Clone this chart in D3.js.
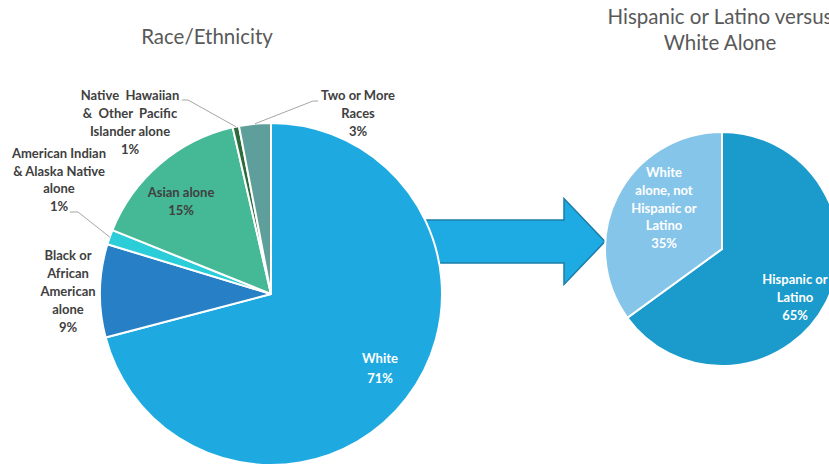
<!DOCTYPE html>
<html>
<head>
<meta charset="utf-8">
<script src="https://cdn.jsdelivr.net/npm/d3@7"></script>
<style>
html,body{margin:0;padding:0;background:#fff;overflow:hidden;}
svg{display:block;font-family:Lato,"Open Sans",sans-serif;}
svg text{white-space:pre;}
</style>
</head>
<body>
<div id="chart"></div>
<script>
// left pie: race/ethnicity share (%)
const raceNames=["White","Black or African American alone","American Indian & Alaska Native alone","Asian alone","Native Hawaiian & Other Pacific Islander alone","Two or More Races"];
const raceValues=[70.9,8.8,1.4,15.3,0.6,3.0];
const raceLines=[["White"],["Black or","African","American","alone"],["American Indian","& Alaska Native","alone"],["Asian alone"],["Native  Hawaiian","&  Other  Pacific","Islander alone"],["Two or More","Races"]];
const raceColors=["#1eaae1","#2780c6","#2bcdd9","#45b895","#2d6b3a","#5e9f9b"];

// right pie: hispanic vs white alone
const hispNames=["Hispanic or Latino","White alone, not Hispanic or Latino"];
const hispValues=[65,35];
const hispLines=[["Hispanic or","Latino"],["White","alone, not","Hispanic or","Latino"]];
const hispColors=["#1a9bcb","#86c5ea"];

const W=829,H=467;
const svg=d3.select("#chart").append("svg").attr("width",W).attr("height",H);

const L={cx:271,cy:294,r:171};
const R={cx:722,cy:249,r:117};
const lineH=17.8;

// titles
svg.append("text").attr("x",207).attr("y",44).attr("text-anchor","middle")
   .style("font-size","20.5px").style("fill","#595959").text("Race/Ethnicity");
const t2=svg.append("text").attr("x",720).attr("y",24).attr("text-anchor","middle")
   .style("font-size","20.5px").style("fill","#595959");
t2.append("tspan").attr("x",720).text("Hispanic or Latino versus");
t2.append("tspan").attr("x",720).attr("dy",26).text("White Alone");

// arrow (behind the left pie)
const tipX=R.cx-R.r, midY=241.5, shaftH=21.5, headH=43, headL=41;
const arrowPts=[[L.cx,midY-shaftH],[tipX-headL,midY-shaftH],[tipX-headL,midY-headH],[tipX,midY],
                [tipX-headL,midY+headH],[tipX-headL,midY+shaftH],[L.cx,midY+shaftH]];
svg.append("path").attr("d",d3.line()(arrowPts)+"Z")
   .attr("fill","#1eaae2").attr("stroke","#1b7da6").attr("stroke-width",1.5)
   .attr("stroke-linejoin","miter");

const pie=d3.pie().sort(null).value(d=>d);

// left pie
const lArc=d3.arc().innerRadius(0).outerRadius(L.r);
const lg=svg.append("g").attr("transform",`translate(${L.cx},${L.cy})`);
const lData=pie(raceValues);
lg.selectAll("path").data(lData).enter().append("path")
  .attr("d",lArc).attr("fill",(d,i)=>raceColors[i])
  .attr("stroke","#fff").attr("stroke-width",2).attr("stroke-linejoin","round");

// label block centres relative to pie centre, leader elbows for the small slices
const lLabel=[
  {pos:[109,74]},
  {pos:[-203,-2.5]},
  {pos:[-212,-114],elbow:[-193,-82],tail:-8},
  {pos:[-90,-92.6]},
  {pos:[-141,-171.7],elbow:[-83,-194],tail:-6},
  {pos:[87,-180.7],elbow:[42,-193],tail:5}
];
lData.forEach((d,i)=>{
  const cfg=lLabel[i];
  const p=cfg.pos;
  if(cfg.elbow){
    const a=(d.startAngle+d.endAngle)/2;
    const s=[Math.sin(a)*L.r,-Math.cos(a)*L.r];
    lg.append("path").attr("d",d3.line()([s,cfg.elbow,[cfg.elbow[0]+cfg.tail,cfg.elbow[1]]]))
      .attr("fill","none").attr("stroke","#a6a6a6").attr("stroke-width",1);
  }
  const lines=raceLines[i].concat([Math.round(raceValues[i])+"%"]);
  const white=i===0;
  const gap=white?20:lineH;
  const t=lg.append("text").attr("text-anchor","middle")
    .style("font-size","13px").style("font-weight","bold")
    .style("fill",white?"#fff":"#404040");
  const y0=p[1]-(lines.length-1)*gap/2;
  lines.forEach((s,j)=>{
    t.append("tspan").attr("x",p[0]).attr("y",y0+j*gap).attr("dy","0.35em").text(s);
  });
});

// right pie
const rArc=d3.arc().innerRadius(0).outerRadius(R.r);
const rg=svg.append("g").attr("transform",`translate(${R.cx},${R.cy})`);
const rData=pie(hispValues);
rg.selectAll("path").data(rData).enter().append("path")
  .attr("d",rArc).attr("fill",(d,i)=>hispColors[i])
  .attr("stroke","#fff").attr("stroke-width",2);
const rLabel=[{pos:[73,48.5]},{pos:[-58,-41]}];
rData.forEach((d,i)=>{
  const p=rLabel[i].pos;
  const lines=hispLines[i].concat([hispValues[i]+"%"]);
  const t=rg.append("text").attr("text-anchor","middle")
    .style("font-size","13px").style("font-weight","bold").style("fill","#fff");
  const y0=p[1]-(lines.length-1)*lineH/2;
  lines.forEach((s,j)=>{
    t.append("tspan").attr("x",p[0]).attr("y",y0+j*lineH).attr("dy","0.35em").text(s);
  });
});
</script>
</body>
</html>
